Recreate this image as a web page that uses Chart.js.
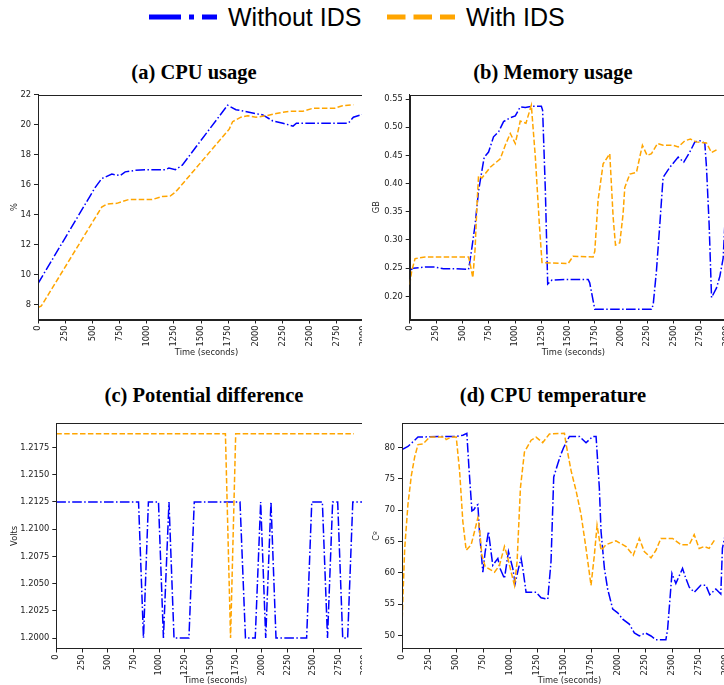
<!DOCTYPE html>
<html>
<head>
<meta charset="utf-8">
<script src="https://cdn.jsdelivr.net/npm/chart.js@4.4.1/dist/chart.umd.min.js"></script>
<style>
  body { margin: 0; background: #fff; width: 724px; height: 685px; position: relative; overflow: hidden; }
  .panel { position: absolute; overflow: hidden; }
  .panel canvas { position: absolute; left: 0; top: 0; }
  .title { position: absolute; width: 300px; text-align: center; font: bold 20.5px "Liberation Serif"; line-height: 24px; color: #000; }
  .leg { position: absolute; font: 25px "Liberation Sans"; line-height: 30px; color: #000; top: 2px; }
  .sample { position: absolute; top: 12px; }
</style>
</head>
<body>

<svg class="sample" style="left:149px" width="70" height="10"><line x1="0" y1="5" x2="68" y2="5" stroke="#0000ff" stroke-width="5" stroke-dasharray="32 8 5 8"/></svg>
<div class="leg" style="left:228px">Without IDS</div>
<svg class="sample" style="left:387px" width="70" height="10"><line x1="0" y1="5" x2="68" y2="5" stroke="#ffa500" stroke-width="5" stroke-dasharray="18.5 8"/></svg>
<div class="leg" style="left:466px">With IDS</div>

<div class="title" style="left:44px;top:60px">(a) CPU usage</div>
<div class="title" style="left:403px;top:60px">(b) Memory usage</div>
<div class="title" style="left:54px;top:383px">(c) Potential difference</div>
<div class="title" style="left:403px;top:383px">(d) CPU temperature</div>

<div class="panel" style="left:0;top:84px;width:362px;height:276px"><canvas id="cpu" width="385" height="274"></canvas></div>
<div class="panel" style="left:362px;top:84px;width:362px;height:276px"><canvas id="mem" width="385" height="274"></canvas></div>
<div class="panel" style="left:0;top:413px;width:362px;height:272px"><canvas id="volt" width="385" height="273"></canvas></div>
<div class="panel" style="left:362px;top:413px;width:362px;height:272px"><canvas id="temp" width="385" height="273"></canvas></div>

<script>
// tick labels
const timeTicks = [0, 250, 500, 750, 1000, 1250, 1500, 1750, 2000, 2250, 2500, 2750, 3000];
const cpuTicks = [8, 10, 12, 14, 16, 18, 20, 22];
const memTicks = [0.20, 0.25, 0.30, 0.35, 0.40, 0.45, 0.50, 0.55];
const voltTicks = [1.2000, 1.2025, 1.2050, 1.2075, 1.2100, 1.2125, 1.2150, 1.2175];
const tempTicks = [50, 55, 60, 65, 70, 75, 80];

// (a) CPU usage, %
const cpuTimeWithout = [0, 525, 586, 679, 756, 802, 895, 988, 1173, 1204, 1265, 1327, 1744, 1821, 2068, 2160, 2253, 2346, 2377, 2855, 2901, 2994];
const cpuWithout = [9.4, 15.8, 16.4, 16.7, 16.6, 16.85, 16.95, 17.0, 17.0, 17.1, 17.0, 17.3, 21.3, 21.0, 20.65, 20.25, 20.1, 19.9, 20.1, 20.1, 20.5, 20.7];
const cpuTimeWith = [0, 31, 586, 633, 725, 833, 1049, 1142, 1219, 1265, 1759, 1790, 1867, 1929, 2006, 2099, 2191, 2315, 2438, 2531, 2731, 2793, 2901];
const cpuWith = [7.8, 7.9, 14.5, 14.7, 14.75, 15.0, 15.0, 15.2, 15.25, 15.5, 19.7, 20.2, 20.5, 20.6, 20.5, 20.6, 20.75, 20.9, 20.9, 21.1, 21.1, 21.25, 21.33];

// (b) Memory usage, GB
const memTimeWithout = [0, 35, 146, 240, 320, 430, 557, 566, 589, 620, 652, 684, 706, 747, 794, 842, 889, 953, 1000, 1047,
  1095, 1158, 1247, 1259, 1285, 1307, 1348, 1475, 1690, 1705, 1753, 2290, 2306, 2337, 2369, 2400, 2464, 2543, 2596, 2653,
  2701, 2748, 2795, 2811, 2836, 2859, 2906, 2938, 2969, 2985, 3010];
const memWithout = [0.246, 0.250, 0.252, 0.252, 0.249, 0.249, 0.248, 0.257, 0.286, 0.328, 0.387, 0.423, 0.447, 0.456, 0.483, 0.492, 0.510, 0.517, 0.520, 0.536,
  0.535, 0.537, 0.537, 0.530, 0.387, 0.222, 0.229, 0.230, 0.230, 0.224, 0.177, 0.177, 0.185, 0.245, 0.328, 0.411, 0.429, 0.447, 0.438, 0.456,
  0.474, 0.476, 0.472, 0.429, 0.328, 0.198, 0.215, 0.236, 0.268, 0.328, 0.400];
const memTimeWith = [0, 19, 51, 146, 557, 573, 598, 620, 636, 652, 684, 763, 858, 905, 953, 1000, 1047, 1101, 1152, 1190,
  1228, 1253, 1500, 1547, 1737, 1753, 1784, 1832, 1895, 1927, 1949, 1990, 2021, 2037, 2085, 2148, 2179, 2204, 2249, 2290,
  2347, 2400, 2495, 2543, 2606, 2659, 2716, 2811, 2859, 2906];
const memWith = [0.221, 0.245, 0.267, 0.270, 0.270, 0.257, 0.233, 0.286, 0.358, 0.414, 0.410, 0.429, 0.444, 0.468, 0.489, 0.471, 0.511, 0.507, 0.539, 0.447,
  0.328, 0.260, 0.258, 0.271, 0.270, 0.280, 0.370, 0.435, 0.453, 0.340, 0.291, 0.295, 0.346, 0.393, 0.417, 0.420, 0.447, 0.468, 0.450, 0.453,
  0.471, 0.468, 0.468, 0.465, 0.476, 0.479, 0.474, 0.472, 0.455, 0.460];

// (c) Potential difference, Volts
const voltTimeWithout = [0, 800, 848, 896, 994, 1042, 1096, 1145, 1290, 1342, 1787, 1840, 1935, 1988, 2037, 2088, 2137, 2435, 2485, 2588, 2638, 2688, 2737, 2786, 2834, 2884, 3050];
const voltWithout = [1.2125, 1.2125, 1.2, 1.2125, 1.2125, 1.2, 1.2125, 1.2, 1.2, 1.2125, 1.2125, 1.2, 1.2, 1.2125, 1.2, 1.2125, 1.2, 1.2, 1.2125, 1.2125, 1.2, 1.2125, 1.2125, 1.2, 1.2, 1.2125, 1.2125];
const voltTimeWith = [0, 1645, 1695, 1745, 2895];
const voltWith = [1.21875, 1.21875, 1.2, 1.21875, 1.21875];

// (d) CPU temperature
const tempTimeWithout = [0, 55, 148, 394, 502, 563, 600, 619, 647, 665, 687, 702, 717, 748, 770, 800, 840, 887, 908, 948,
  985, 1025, 1047, 1078, 1102, 1118, 1148, 1241, 1287, 1349, 1379, 1404, 1441, 1472, 1495, 1549, 1642, 1703, 1765, 1796,
  1826, 1842, 1873, 1903, 1950, 1996, 2042, 2103, 2150, 2196, 2251, 2304, 2350, 2442, 2458, 2498, 2534, 2596, 2627, 2658,
  2704, 2765, 2812, 2848, 2904, 2950, 2965, 2990];
const tempWithout = [79.7, 80.2, 81.7, 81.8, 81.8, 82.0, 82.3, 76.9, 69.9, 70.1, 70.7, 70.9, 66.6, 60.1, 63.4, 66.6, 61.2, 62.3, 60.7, 59.1,
  63.4, 60.7, 58.3, 60.7, 62.3, 60.7, 56.9, 56.9, 56.0, 55.8, 61.8, 75.3, 77.4, 79.0, 80.0, 81.8, 81.8, 80.8, 81.8, 81.8,
  73.6, 66.6, 60.7, 57.4, 54.2, 53.6, 52.6, 51.8, 50.4, 49.9, 50.4, 49.9, 49.3, 49.3, 51.0, 59.9, 58.3, 60.7, 59.1, 57.7,
  56.9, 58.0, 58.0, 56.5, 57.4, 56.6, 63.9, 66.0];
const tempTimeWith = [0, 9, 25, 55, 86, 117, 148, 194, 256, 394, 409, 456, 502, 533, 563, 594, 640, 671, 702, 717,
  739, 770, 856, 902, 948, 973, 1010, 1041, 1065, 1096, 1133, 1195, 1241, 1302, 1364, 1503, 1518, 1565, 1611, 1657,
  1703, 1749, 1780, 1805, 1842, 1888, 1980, 2073, 2140, 2196, 2242, 2304, 2350, 2396, 2504, 2581, 2658, 2704, 2750, 2796,
  2842, 2898];
const tempWith = [51.5, 56.4, 63.9, 70.9, 75.5, 78.5, 80.5, 80.6, 81.7, 81.7, 81.3, 81.7, 81.7, 76.3, 68.2, 63.6, 64.5, 66.6, 68.8, 67.2,
  62.8, 61.0, 60.1, 61.2, 64.2, 62.8, 60.1, 58.0, 61.8, 73.6, 79.3, 81.2, 81.7, 80.8, 82.2, 82.3, 80.6, 76.3, 73.1, 69.3,
  63.9, 58.0, 62.8, 67.6, 63.6, 64.5, 65.1, 64.2, 62.8, 65.5, 63.4, 62.4, 63.6, 65.5, 65.5, 64.5, 64.5, 66.1, 63.9, 64.2,
  63.9, 65.4];

const FONT = { family: "DejaVu Sans", size: 8.3 };
const INK = "#222";

function zip(xs, ys) {
    return xs.map((x, i) => ({ x: x, y: ys[i] }));
}

// box around the plot area, like matplotlib spines
const frame = {
    id: "frame",
    afterDatasetsDraw(chart) {
        const a = chart.chartArea;
        const ctx = chart.ctx;
        ctx.save();
        ctx.strokeStyle = INK;
        ctx.lineWidth = 1;
        ctx.strokeRect(Math.round(a.left) + 0.5, Math.round(a.top) + 0.5, Math.round(a.right - a.left), Math.round(a.bottom - a.top));
        ctx.restore();
    }
};

function makePanel(id, p) {
    new Chart(document.getElementById(id), {
        type: "line",
        data: {
            datasets: [
                {
                    label: "Without IDS",
                    data: zip(p.t1, p.v1),
                    borderColor: "#0000ff",
                    borderWidth: 1.5,
                    borderDash: [9.6, 2.4, 1.5, 2.4],
                    pointRadius: 0,
                    tension: 0,
                    fill: false,
                    order: 2
                },
                {
                    label: "With IDS",
                    data: zip(p.t2, p.v2),
                    borderColor: "#ffa500",
                    borderWidth: 1.5,
                    borderDash: [5.5, 2.4],
                    pointRadius: 0,
                    tension: 0,
                    fill: false,
                    order: 1
                }
            ]
        },
        options: {
            responsive: false,
            animation: false,
            events: [],
            layout: { padding: { top: p.padTop, right: 10, left: 0, bottom: 0 } },
            plugins: { legend: { display: false }, tooltip: { enabled: false } },
            scales: {
                x: {
                    type: "linear",
                    min: 0,
                    max: 3100,
                    afterBuildTicks: s => { s.ticks = timeTicks.map(v => ({ value: v })); },
                    afterFit: s => { s.height = p.xH; },
                    ticks: { minRotation: 90, maxRotation: 90, autoSkip: false, color: INK, font: FONT, padding: 2, callback: v => String(v) },
                    grid: { drawOnChartArea: false, drawTicks: true, tickLength: 4, color: INK },
                    border: { display: true, color: INK },
                    title: { display: true, text: "Time (seconds)", color: INK, font: FONT, padding: { top: 0, bottom: 0 } }
                },
                y: {
                    min: p.yMin,
                    max: p.yMax,
                    afterBuildTicks: s => { s.ticks = p.yTicks.map(v => ({ value: v })); },
                    afterFit: s => { s.width = p.yW; },
                    ticks: { color: INK, font: FONT, padding: 3, callback: v => v.toFixed(p.dec) },
                    grid: { drawOnChartArea: false, drawTicks: true, tickLength: 4, color: INK },
                    border: { display: true, color: INK },
                    title: { display: true, text: p.yLabel, color: INK, font: FONT, padding: { top: 10, bottom: 0 } }
                }
            }
        },
        plugins: [frame]
    });
}

makePanel("cpu", { t1: cpuTimeWithout, v1: cpuWithout, t2: cpuTimeWith, v2: cpuWith,
    yMin: 7, yMax: 22, yTicks: cpuTicks, dec: 0, yLabel: "%", yW: 38, padTop: 10.7, xH: 38.5 });
makePanel("mem", { t1: memTimeWithout, v1: memWithout, t2: memTimeWith, v2: memWith,
    yMin: 0.159, yMax: 0.5577, yTicks: memTicks, dec: 2, yLabel: "GB", yW: 47.7, padTop: 10.7, xH: 38.5 });
makePanel("volt", { t1: voltTimeWithout, v1: voltWithout, t2: voltTimeWith, v2: voltWith,
    yMin: 1.19904, yMax: 1.21972, yTicks: voltTicks, dec: 4, yLabel: "Volts", yW: 56.3, padTop: 10.3, xH: 37.5 });
makePanel("temp", { t1: tempTimeWithout, v1: tempWithout, t2: tempTimeWith, v2: tempWith,
    yMin: 47.9, yMax: 83.9, yTicks: tempTicks, dec: 0, yLabel: "Cº", yW: 40, padTop: 10.3, xH: 37.5 });
</script>
</body>
</html>
